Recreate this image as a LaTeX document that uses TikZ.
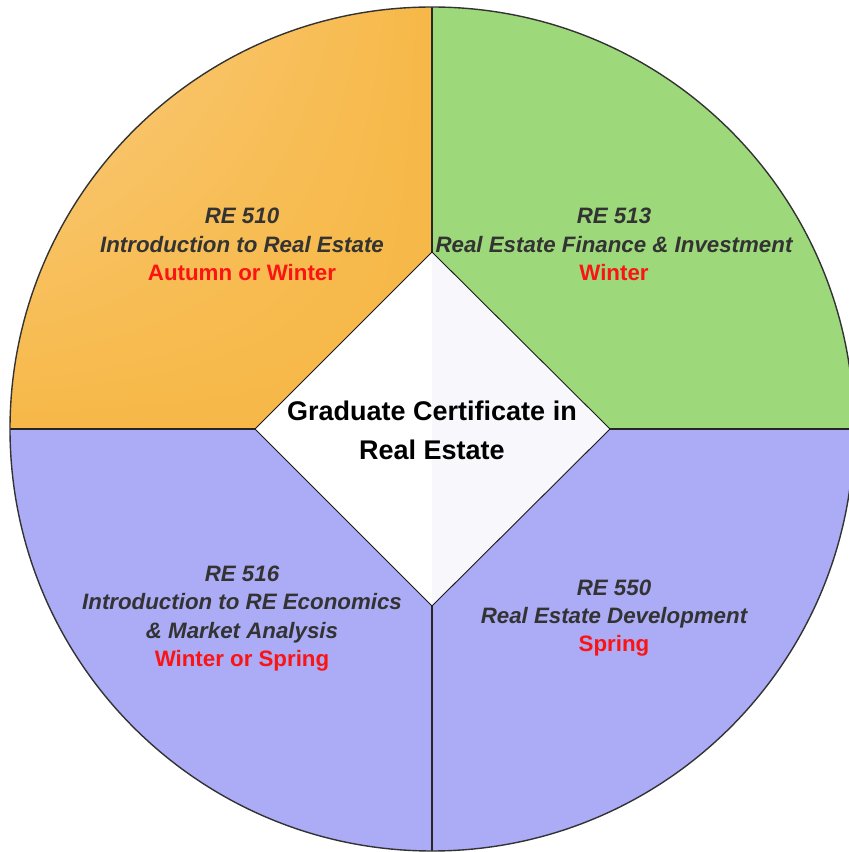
\documentclass[tikz,border=0pt]{standalone}
\usepackage{fontspec}
\usetikzlibrary{shadings}
\setmainfont{Liberation Sans}
\definecolor{orangeA}{HTML}{FBCE86}
\definecolor{orangeB}{HTML}{F6B847}
\definecolor{greenA}{HTML}{9DD97A}
\definecolor{blueA}{HTML}{ABABF6}
\definecolor{txtgray}{HTML}{333333}
\definecolor{redtxt}{HTML}{FA1414}
\definecolor{diamR}{HTML}{F7F7FC}
\begin{document}
\begin{tikzpicture}[x=1pt,y=1pt,
  course/.style={align=center, text=txtgray, font=\fontsize{22.3}{28.3}\selectfont\bfseries\itshape},
  divider/.style={draw=black!85, line width=1.6pt},
  rim/.style={draw=black!80, line width=1.4pt}]
\useasboundingbox (0,0) rectangle (849,852);
\coordinate (c) at (432,423);
\def\R{422}
\coordinate (cL) at (10,423);
\coordinate (cR) at (854,423);
\coordinate (cT) at (432,845);
\coordinate (cB) at (432,1);
\coordinate (dT) at (432,600);
\coordinate (dB) at (432,246);
\coordinate (dL) at (255,423);
\coordinate (dR) at (610,423);
% sectors
\begin{scope}
\clip (c) -- (cL) arc (180:90:\R) -- cycle;
\shade[upper left=orangeA, upper right=orangeB, lower left=orangeB, lower right=orangeB] (10,423) rectangle (432,845);
\end{scope}
\fill[greenA] (c) -- (cT) arc (90:0:\R) -- cycle;
\fill[blueA] (c) -- (cR) arc (0:-90:\R) -- cycle;
\fill[blueA] (c) -- (cB) arc (-90:-180:\R) -- cycle;
% diamond
\fill[white] (dT) -- (dL) -- (dB) -- cycle;
\fill[diamR] (dT) -- (dR) -- (dB) -- cycle;
\draw[black!90, line width=0.9pt] (dT) -- (dL) -- (dB) -- (dR) -- cycle;
% dividers
\draw[divider] (dT) -- (cT);
\draw[divider] (dB) -- (cB);
\draw[divider] (dL) -- (cL);
\draw[divider] (dR) -- (cR);
% rim
\draw[rim] (c) circle (\R);
% texts
\node[course] (re510) at (242,607.5) {RE 510\\Introduction to Real Estate\\{\upshape\color{redtxt}Autumn or Winter}};
\node[course] (re513) at (614,607.5) {RE 513\\Real Estate Finance \& Investment\\{\upshape\color{redtxt}Winter}};
\node[course] (re516) at (242,233.5) {RE 516\\Introduction to RE Economics\\\& Market Analysis\\{\upshape\color{redtxt}Winter or Spring}};
\node[course] (re550) at (614,234) {RE 550\\Real Estate Development\\{\upshape\color{redtxt}Spring}};
\node[align=center, font=\fontsize{27}{39}\selectfont\bfseries, text=black] (title) at (432,421.5) {Graduate Certificate in\\Real Estate};
\end{tikzpicture}
\end{document}
